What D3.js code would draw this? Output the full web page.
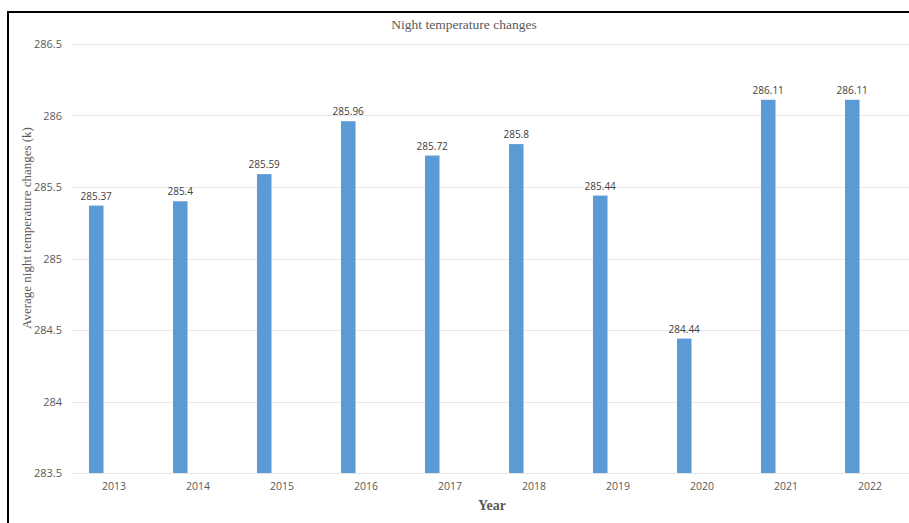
<!DOCTYPE html>
<html>
<head>
<meta charset="utf-8">
<script src="https://cdn.jsdelivr.net/npm/d3@7"></script>
<style>
  html, body { margin: 0; padding: 0; background: #fff; }
  svg { display: block; }
</style>
</head>
<body>
<svg id="chart" width="909" height="523"></svg>
<script>
// Average night temperature per year (Kelvin)
const years = ["2013", "2014", "2015", "2016", "2017", "2018", "2019", "2020", "2021", "2022"];
const nightTemps = [285.37, 285.4, 285.59, 285.96, 285.72, 285.8, 285.44, 284.44, 286.11, 286.11];
const yTicks = [283.5, 284, 284.5, 285, 285.5, 286, 286.5];

const W = 909, H = 523;
const plot = { left: 72, right: 912, top: 44, bottom: 473 };

const svg = d3.select("#chart");

// Outer frame (top and left edges)
svg.append("line").attr("x1", 8).attr("x2", W).attr("y1", 12).attr("y2", 12)
  .attr("stroke", "#000").attr("stroke-width", 2);
svg.append("line").attr("x1", 8).attr("x2", 8).attr("y1", 11).attr("y2", H)
  .attr("stroke", "#000").attr("stroke-width", 2);

const x = d3.scaleBand().domain(years).range([plot.left, plot.right]).padding(0);
const y = d3.scaleLinear().domain([283.5, 286.5]).range([plot.bottom, plot.top]);

// Horizontal gridlines
svg.append("g").selectAll("line").data(yTicks).join("line")
  .attr("x1", plot.left).attr("x2", W)
  .attr("y1", d => Math.round(y(d)) + 0.5).attr("y2", d => Math.round(y(d)) + 0.5)
  .attr("stroke", "#e6e6e6").attr("stroke-width", 1);

// Y axis tick labels
const yAxis = d3.axisLeft(y).tickValues(yTicks).tickSize(0).tickPadding(10)
  .tickFormat(d => String(d));
svg.append("g").attr("transform", `translate(${plot.left},0)`).call(yAxis)
  .call(g => g.select(".domain").remove())
  .selectAll("text")
  .attr("font-family", "'Open Sans', sans-serif").attr("font-size", 11).attr("fill", "#595959");

// X axis tick labels
const xAxis = d3.axisBottom(x).tickSize(0).tickPadding(10);
svg.append("g").attr("transform", `translate(0,${plot.bottom})`).call(xAxis)
  .call(g => g.select(".domain").remove())
  .selectAll("text")
  .attr("font-family", "'Open Sans', sans-serif").attr("font-size", 10.5).attr("fill", "#595959");

// Bars sit in the left part of each year slot
const barOffset = x.bandwidth() * 0.202;
const barWidth = x.bandwidth() * 0.173;

svg.append("g").selectAll("rect").data(years).join("rect")
  .attr("x", (d) => x(d) + barOffset)
  .attr("width", barWidth)
  .attr("y", (d, i) => y(nightTemps[i]))
  .attr("height", (d, i) => y(283.5) - y(nightTemps[i]))
  .attr("fill", "#5b9bd5");

// Value labels
svg.append("g").selectAll("text").data(years).join("text")
  .attr("x", d => x(d) + barOffset + barWidth / 2)
  .attr("y", (d, i) => y(nightTemps[i]) - 6)
  .attr("text-anchor", "middle")
  .attr("font-family", "'Open Sans', sans-serif").attr("font-size", 10)
  .attr("fill", "#404040")
  .text((d, i) => String(nightTemps[i]));

// Title
svg.append("text").attr("x", 464).attr("y", 29).attr("text-anchor", "middle")
  .attr("font-family", "'Liberation Serif', 'Times New Roman', serif").attr("font-size", 13.5)
  .attr("fill", "#595959").text("Night temperature changes");

// Y axis title
svg.append("text").attr("transform", "translate(31,228) rotate(-90)")
  .attr("text-anchor", "middle")
  .attr("font-family", "'Liberation Serif', 'Times New Roman', serif").attr("font-size", 13)
  .attr("fill", "#595959").text("Average night temperature changes (k)");

// X axis title
svg.append("text").attr("x", 492).attr("y", 510).attr("text-anchor", "middle")
  .attr("font-family", "'Liberation Serif', 'Times New Roman', serif").attr("font-size", 14)
  .attr("font-weight", "bold").attr("fill", "#595959").text("Year");
</script>
</body>
</html>
